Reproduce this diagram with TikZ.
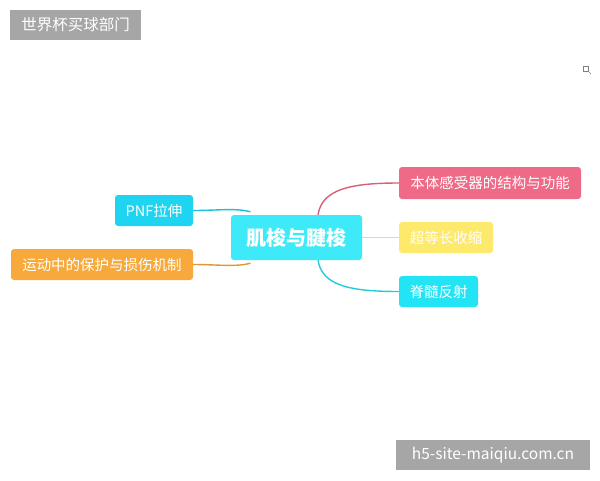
\documentclass[tikz,border=0pt]{standalone}
\usepackage{fontspec}
\setmainfont{Noto Sans CJK SC}
\definecolor{rootcyan}{HTML}{3EEAF8}
\definecolor{pinkbox}{HTML}{EF6A87}
\definecolor{yellowbox}{HTML}{FDE96C}
\definecolor{cyanbox}{HTML}{22E4F4}
\definecolor{pnfbox}{HTML}{1ED4F0}
\definecolor{orangebox}{HTML}{F7A93B}
\definecolor{wmgray}{HTML}{A6A6A6}
\pgfdeclarelayer{background}
\pgfsetlayers{background,main}
\tikzset{topic/.style={rounded corners=3pt,text=white,inner sep=0pt,font=\fontsize{14.5}{16}\selectfont},
	wmbox/.style={fill=wmgray,text=white,inner sep=0pt,font=\fontsize{15.5}{17}\selectfont},
	branch/.style={line width=1.4pt}}
\begin{document}
\begin{tikzpicture}[x=1pt,y=-1pt]
			\useasboundingbox (0,0) rectangle (600,480);
			\node[wmbox,minimum width=131pt,minimum height=30pt] (wmtop) at (75.5,25) {世界杯买球部门};
			\node[wmbox,minimum width=194pt,minimum height=30pt] (wmbottom) at (493,455) {h5-site-maiqiu.com.cn};
			\draw[gray,line width=.6pt] (583,66) rectangle (588,71);
			\draw[gray,line width=.6pt] (588,71) -- (591,74);
			\node[topic,fill=rootcyan,minimum width=131pt,minimum height=45pt,font=\fontsize{20}{22}\selectfont\bfseries] (root) at (296.5,237.5) {肌梭与腱梭};
			\node[topic,fill=pinkbox,minimum width=182pt,minimum height=32pt] (proprio) at (490,183) {本体感受器的结构与功能};
			\node[topic,fill=yellowbox,minimum width=94pt,minimum height=31pt] (plyo) at (446,237.5) {超等长收缩};
			\node[topic,fill=cyanbox,minimum width=79pt,minimum height=31pt] (reflex) at (438.5,291.5) {脊髓反射};
			\node[topic,fill=pnfbox,minimum width=78pt,minimum height=31pt] (pnf) at (154,210.5) {PNF拉伸};
			\node[topic,fill=orangebox,minimum width=182pt,minimum height=31pt] (injury) at (102,264.5) {运动中的保护与损伤机制};
			\begin{pgfonlayer}{background}
			\draw[branch,color=pinkbox!90!black] ([xshift=21.5pt]root.north) .. controls +(4,-25) and +(-50,0) .. (proprio.west);
			\draw[branch,color=yellowbox!85!orange] (root.east) -- (plyo.west);
			\draw[branch,color=cyanbox!90!black] ([xshift=21.5pt]root.south) .. controls +(4,25) and +(-50,0) .. (reflex.west);
			\draw[branch,color=pnfbox!90!black] (pnf.east) .. controls +(25,0) and +(-15,-4) .. ([xshift=-46pt,yshift=3pt]root.north);
			\draw[branch,color=orangebox!90!black] (injury.east) .. controls +(25,0) and +(-15,4) .. ([xshift=-46pt,yshift=-3pt]root.south);
			\end{pgfonlayer}
			\end{tikzpicture}
\end{document}
